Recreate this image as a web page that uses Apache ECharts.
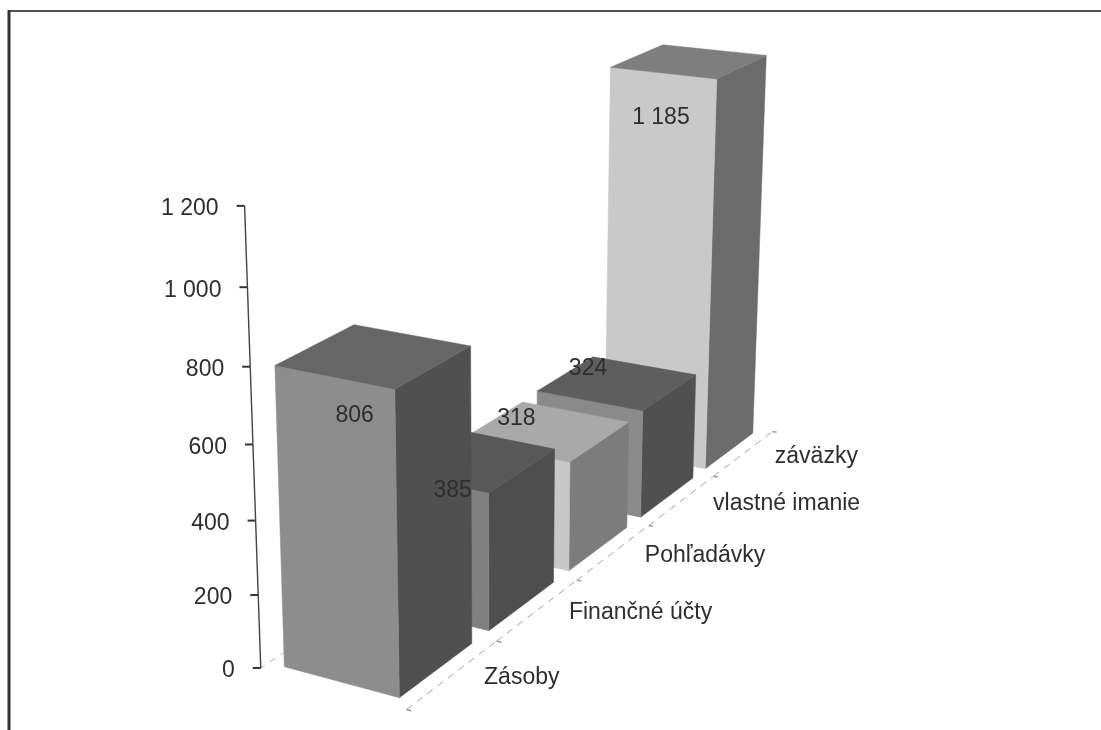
<!DOCTYPE html>
<html>
<head>
<meta charset="utf-8">
<style>
  html, body { margin: 0; padding: 0; background: #fff; }
  #main { width: 1101px; height: 730px; }
</style>
<script src="https://cdn.jsdelivr.net/npm/echarts@6/dist/echarts.min.js"></script>
</head>
<body>
<div id="main"></div>
<script>
// data
var categories = ['Zásoby', 'Finančné účty', 'Pohľadávky', 'vlastné imanie', 'záväzky'];
var values = [806, 385, 318, 324, 1185];
var valueLabels = ['806', '385', '318', '324', '1 185'];
var tickValues = [0, 200, 400, 600, 800, 1000, 1200];
var tickLabels = ['0', '200', '400', '600', '800', '1 000', '1 200'];

// colours per bar: front, top, side
var frontColors = ['#8d8d8d', '#808080', '#c8c8c8', '#8a8a8a', '#c9c9c9'];
var topColors = ['#666666', '#585858', '#a9a9a9', '#5e5e5e', '#7e7e7e'];
var sideColors = ['#505050', '#4e4e4e', '#7c7c7c', '#505050', '#6c6c6c'];
// the value labels do not sit at one fixed place on the bars
var labelShift = [[-19, 60], [-13, 32], [-29, -12], [-29, -14], [-28, 56]];

var FONT = '23px "Liberation Sans", Arial, sans-serif';
var TEXT = '#2e2e2e';

// hidden grid: x gives depth along the floor, y gives height in px
var GRID_LEFT = 100, GRID_WIDTH = 520, GRID_TOP = 206, GRID_BOTTOM_Y = 668;

// floor quad, u across the bar and v along the categories
var Q = [[284, 667], [399, 698], [753, 433], [655, 415]];
var dx1 = Q[1][0] - Q[2][0], dy1 = Q[1][1] - Q[2][1];
var dx2 = Q[3][0] - Q[2][0], dy2 = Q[3][1] - Q[2][1];
var dx3 = Q[0][0] - Q[1][0] + Q[2][0] - Q[3][0], dy3 = Q[0][1] - Q[1][1] + Q[2][1] - Q[3][1];
var den = dx1 * dy2 - dx2 * dy1;
var hg = (dx3 * dy2 - dx2 * dy3) / den;
var hh = (dx1 * dy3 - dx3 * dy1) / den;
var ha = Q[1][0] - Q[0][0] + hg * Q[1][0], hb = Q[3][0] - Q[0][0] + hh * Q[3][0];
var hd = Q[1][1] - Q[0][1] + hg * Q[1][1], he = Q[3][1] - Q[0][1] + hh * Q[3][1];

// verticals meet far below the picture
var VP = [500, 7500];
var RISE = 1.361e-4;
var AXIS_RISE = 1.3708e-4;

// u, v on the floor and height in px -> picture position
function project(u, v, h, rise) {
  var w = hg * u + hh * v + 1;
  var x = (ha * u + hb * v + Q[0][0]) / w;
  var y = (hd * u + he * v + Q[0][1]) / w;
  var k = 1 / (1 - (rise || RISE) / Math.pow(w, 0.9) * h);
  return [VP[0] + (x - VP[0]) * k, VP[1] + (y - VP[1]) * k];
}
function depthOf(px) { return (px - GRID_LEFT) / 500 - 0.02; }
function heightOf(py) { return GRID_BOTTOM_Y - py; }

function poly(points, fill) {
  return { type: 'polygon', shape: { points: points }, style: { fill: fill, stroke: fill, lineWidth: 0.5 } };
}
function line(a, b, stroke, width, dash) {
  return {
    type: 'line',
    shape: { x1: a[0], y1: a[1], x2: b[0], y2: b[1] },
    style: { stroke: stroke, lineWidth: width, lineDash: dash || null }
  };
}
function label(x, y, text, align) {
  return {
    type: 'text',
    style: { x: x, y: y, text: text, font: FONT, fill: TEXT, align: align, verticalAlign: 'middle' }
  };
}

// value axis, leaning with the perspective
var AXIS_U = -0.14, AXIS_V = -0.016;
function renderAxis(params, api) {
  var i = params.dataIndex;
  var p = project(AXIS_U, AXIS_V, heightOf(api.coord([0, api.value(0)])[1]), AXIS_RISE);
  var kids = [
    line([p[0] - 8, p[1]], p, '#333333', 2),
    label(p[0] - 26, p[1] + 3, tickLabels[i], 'right')
  ];
  if (i < tickValues.length - 1) {
    var n = project(AXIS_U, AXIS_V, heightOf(api.coord([0, tickValues[i + 1]])[1]), AXIS_RISE);
    kids.push(line(p, n, '#444444', 1.4));
  }
  return { type: 'group', children: kids };
}

// dashed floor lines and the small marks between categories
var FLOOR_U = 1.14;
function renderFloor(params, api) {
  var cx = api.coord([api.value(0), 0])[0];
  var band = api.size([1, 0])[0];
  var start = depthOf(cx - band / 2), end = depthOf(cx + band / 2);
  var kids = [
    line(project(FLOOR_U, start, 0), project(FLOOR_U + 0.04, start, 0), '#999999', 1.5),
    line(project(FLOOR_U, start, 0), project(FLOOR_U, end, 0), '#a6a6a6', 1, [7, 6]),
    line(project(AXIS_U, start, 0), project(AXIS_U, end, 0), '#b5b5b5', 1, [7, 6])
  ];
  if (params.dataIndex === categories.length - 1) {
    kids.push(line(project(FLOOR_U, end, 0), project(FLOOR_U + 0.04, end, 0), '#999999', 1.5));
  }
  return { type: 'group', children: kids };
}

function renderBar(params, api) {
  var i = api.value(0);
  var c = api.coord([i, api.value(1)]);
  var half = api.size([1, 0])[0] * 0.4;
  var v0 = depthOf(c[0] - half), v1 = depthOf(c[0] + half);
  var h = heightOf(c[1]);
  var fl = project(0, v0, 0), fr = project(1, v0, 0), br = project(1, v1, 0);
  var tfl = project(0, v0, h), tfr = project(1, v0, h), tbr = project(1, v1, h), tbl = project(0, v1, h);
  return {
    type: 'group',
    children: [
      poly([fr, br, tbr, tfr], sideColors[i]),
      poly([fl, fr, tfr, tfl], frontColors[i]),
      poly([tfl, tfr, tbr, tbl], topColors[i])
    ]
  };
}

function renderValueLabel(params, api) {
  var i = api.value(0);
  var c = api.coord([i, api.value(1)]);
  var p = project(0.5, depthOf(c[0]), heightOf(c[1]));
  return label(p[0] + labelShift[i][0], p[1] + labelShift[i][1], valueLabels[i], 'center');
}

function renderCategory(params, api) {
  var i = api.value(0);
  var p = project(1.15, depthOf(api.coord([i, 0])[0]), 0);
  return label(p[0] + 30, p[1] + 3, categories[i], 'left');
}

var barData = values.map(function (v, i) { return [i, v]; });
var axisData = tickValues.map(function (v) { return [v]; });
var categoryData = categories.map(function (c, i) { return [i]; });

var chart = echarts.init(document.getElementById('main'), null, { renderer: 'canvas' });

chart.setOption({
  animation: false,
  backgroundColor: '#ffffff',
  // scan frame of the page
  graphic: [
    { type: 'line', shape: { x1: 8, y1: 11, x2: 1101, y2: 11 }, style: { stroke: '#555555', lineWidth: 2 } },
    { type: 'line', shape: { x1: 9, y1: 10, x2: 9, y2: 730 }, style: { stroke: '#333333', lineWidth: 3 } }
  ],
  grid: { left: GRID_LEFT, width: GRID_WIDTH, top: GRID_TOP, bottom: 730 - GRID_BOTTOM_Y },
  xAxis: { type: 'category', data: categories, show: false },
  yAxis: { type: 'value', min: 0, max: 1200, interval: 200, show: false },
  series: [
    { type: 'custom', name: 'floor', coordinateSystem: 'cartesian2d', z: 1, silent: true, clip: false,
      renderItem: renderFloor, encode: { x: 0 }, data: categoryData },
    { type: 'custom', name: 'axis', coordinateSystem: 'cartesian2d', z: 2, silent: true, clip: false,
      renderItem: renderAxis, encode: { y: 0 }, data: axisData },
    // back to front so the nearer bars cover the others
    { type: 'custom', name: 'bars', coordinateSystem: 'cartesian2d', z: 3, silent: true, clip: false,
      renderItem: renderBar, encode: { x: 0, y: 1 }, data: barData.slice().reverse() },
    { type: 'custom', name: 'categories', coordinateSystem: 'cartesian2d', z: 4, silent: true, clip: false,
      renderItem: renderCategory, encode: { x: 0 }, data: categoryData },
    { type: 'custom', name: 'values', coordinateSystem: 'cartesian2d', z: 5, silent: true, clip: false,
      renderItem: renderValueLabel, encode: { x: 0, y: 1 }, data: barData }
  ]
});
</script>
</body>
</html>
